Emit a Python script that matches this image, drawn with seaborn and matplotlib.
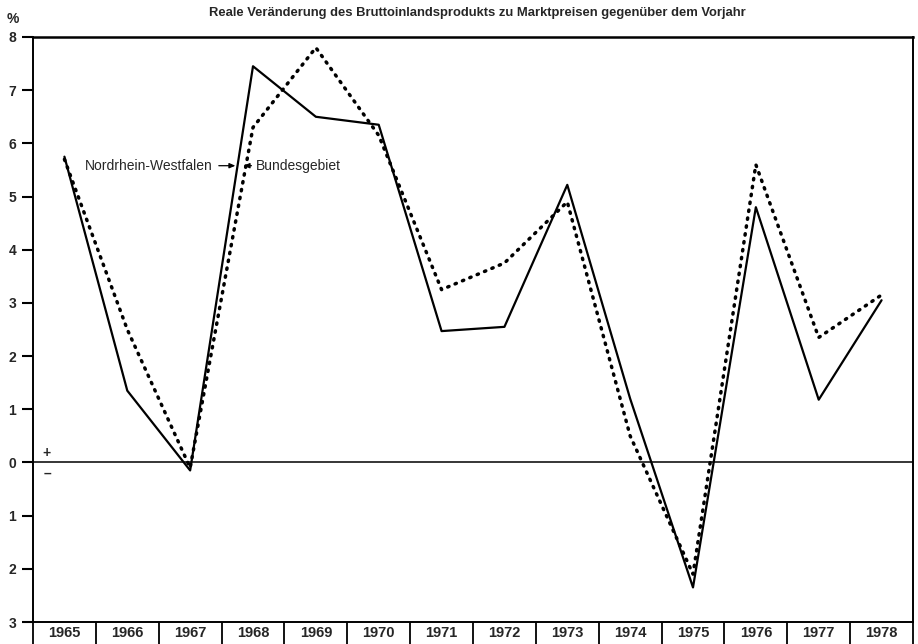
import numpy as np
import pandas as pd
import seaborn as sns
import matplotlib.pyplot as plt
from matplotlib.ticker import FixedLocator, FuncFormatter

years = [1965, 1966, 1967, 1968, 1969, 1970, 1971, 1972, 1973, 1974, 1975, 1976, 1977, 1978]
nrw = [5.75, 1.35, -0.15, 7.45, 6.5, 6.35, 2.47, 2.55, 5.22, 1.2, -2.35, 4.8, 1.18, 3.05]
bund = [5.7, 2.5, -0.1, 6.3, 7.8, 6.15, 3.25, 3.75, 4.9, 0.5, -2.1, 5.6, 2.35, 3.15]
yticks = [8, 7, 6, 5, 4, 3, 2, 1, 0, -1, -2, -3]
title = "Reale Veränderung des Bruttoinlandsprodukts zu Marktpreisen gegenüber dem Vorjahr"

sns.set_style("white")
plt.rcParams["font.family"] = ["Liberation Sans", "DejaVu Sans"]

fig = plt.figure(figsize=(9.18, 6.44), dpi=100)
ax = fig.add_axes([33 / 918, 1 - 622 / 644, 880 / 918, 585 / 644])

sns.lineplot(x=years, y=nrw, color="black", linewidth=1.6, ax=ax)
sns.lineplot(x=years, y=bund, color="black", linewidth=2.5,
             linestyle=(0, (0.4, 1.9)), dash_capstyle="round", ax=ax)
ax.axhline(0, color="black", linewidth=1.1)

ax.set_xlim(years[0] - 0.5, years[-1] + 0.5)
ax.set_ylim(-3, 8)

# year boxes: separators as major ticks, labels on minor ticks
ax.xaxis.set_major_locator(FixedLocator([y - 0.5 for y in years] + [years[-1] + 0.5]))
ax.xaxis.set_major_formatter(FuncFormatter(lambda v, p: ""))
ax.xaxis.set_minor_locator(FixedLocator(years))
ax.xaxis.set_minor_formatter(FuncFormatter(lambda v, p: str(int(round(v)))))
ax.tick_params(axis="x", which="both", bottom=True)
ax.tick_params(axis="x", which="major", direction="out", length=16, width=1.3, color="black")
ax.tick_params(axis="x", which="minor", length=0, pad=3, labelsize=10.5)
for lbl in ax.get_xticklabels(minor=True):
    lbl.set_fontweight("bold")

ax.set_yticks(yticks)
ax.set_yticklabels([str(abs(v)) for v in yticks], fontweight="bold")
ax.tick_params(axis="y", left=True, direction="out", length=8, width=1.5, color="black",
               pad=4, labelsize=10)

for s in ax.spines.values():
    s.set_visible(True)
    s.set_color("black")
    s.set_linewidth(1.4)
ax.spines["top"].set_linewidth(1.8)
ax.set_xlabel("")
ax.set_ylabel("")

fig.text(477 / 918, 1 - 13 / 644, title, ha="center", va="center",
         fontsize=9.4, fontweight="bold")
fig.text(13 / 918, 1 - 19 / 644, "%", ha="center", va="center",
         fontsize=10, fontweight="bold")

ax.text(1964.72, 0.17, "+", ha="center", va="center", fontsize=10, fontweight="bold")
ax.text(1964.73, -0.21, "–", ha="center", va="center", fontsize=10, fontweight="bold")

ax.annotate("Nordrhein-Westfalen", xy=(1967.72, 5.58), xytext=(1967.36, 5.58),
            ha="right", va="center", fontsize=10,
            arrowprops=dict(arrowstyle="-|>,head_length=0.35,head_width=0.15",
                            color="black", lw=0.9, shrinkA=2, shrinkB=0))
ax.annotate("Bundesgebiet", xy=(1967.85, 5.58), xytext=(1968.05, 5.58),
            ha="left", va="center", fontsize=10,
            arrowprops=dict(arrowstyle="-|>,head_length=0.35,head_width=0.15",
                            color="black", lw=0.9, shrinkA=1, shrinkB=0))

fig.savefig("out.png", dpi=100)
